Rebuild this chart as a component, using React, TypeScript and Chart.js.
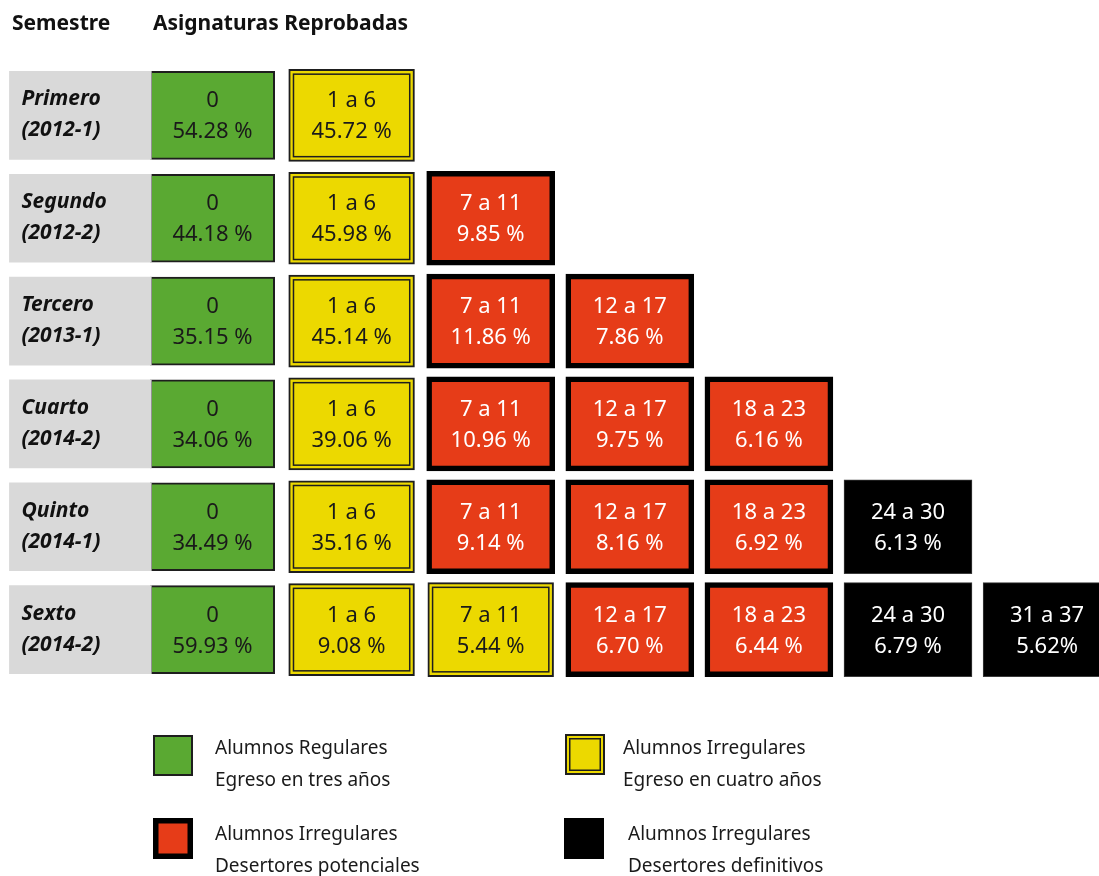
import React, { useEffect, useRef } from "react";
import { Chart, registerables } from "chart.js";

Chart.register(...registerables);

// ---------------- data ----------------
const headerSemester = "Semestre";
const headerFailed = "Asignaturas Reprobadas";

const semesters = ["Primero", "Segundo", "Tercero", "Cuarto", "Quinto", "Sexto"];
const periods = ["(2012-1)", "(2012-2)", "(2013-1)", "(2014-2)", "(2014-1)", "(2014-2)"];

const failedRanges = ["0", "1 a 6", "7 a 11", "12 a 17", "18 a 23", "24 a 30", "31 a 37"];

const pctPrimero = [54.28, 45.72];
const pctSegundo = [44.18, 45.98, 9.85];
const pctTercero = [35.15, 45.14, 11.86, 7.86];
const pctCuarto = [34.06, 39.06, 10.96, 9.75, 6.16];
const pctQuinto = [34.49, 35.16, 9.14, 8.16, 6.92, 6.13];
const pctSexto = [59.93, 9.08, 5.44, 6.7, 6.44, 6.79, 5.62];

// status per cell: R = regular, I = irregular (egreso 4 años), P = desertor potencial, D = desertor definitivo
const statusPrimero = ["R", "I"];
const statusSegundo = ["R", "I", "P"];
const statusTercero = ["R", "I", "P", "P"];
const statusCuarto = ["R", "I", "P", "P", "P"];
const statusQuinto = ["R", "I", "P", "P", "P", "D"];
const statusSexto = ["R", "I", "I", "P", "P", "D", "D"];

// cells whose percent sign is written without a space
const compactPercentCells = ["5-6"];

const legendTitles = ["Alumnos Regulares", "Alumnos Irregulares", "Alumnos Irregulares", "Alumnos Irregulares"];
const legendSubtitles = ["Egreso en tres años", "Egreso en cuatro años", "Desertores potenciales", "Desertores definitivos"];
const legendStatus = ["R", "I", "P", "D"];

const percentages = [pctPrimero, pctSegundo, pctTercero, pctCuarto, pctQuinto, pctSexto];
const statuses = [statusPrimero, statusSegundo, statusTercero, statusCuarto, statusQuinto, statusSexto];

// ---------------- styles / layout ----------------
const W = 1099;
const H = 876;
const FONT = '"Noto Sans", "Open Sans", sans-serif';
const COL0_PX = 212.5;
const COL_PITCH = 139.1;
const LABEL_COL = -0.95;
const LABEL_HALF = 0.51;

const fills: Record<string, string> = { R: "#5aa932", I: "#ecd900", P: "#e63c18", D: "#000000" };
const borders: Record<string, string> = { R: "#1e1e1e", I: "#1e1e1e", P: "#000000", D: "#3a3a3a" };
const borderWidths: Record<string, number> = { R: 2, I: 2, P: 5.5, D: 1 };
const halfWidths: Record<string, number> = { R: 0.447, I: 0.452, P: 0.46, D: 0.46 };
const textColors: Record<string, string> = { R: "#1a1a1a", I: "#1a1a1a", P: "#ffffff", D: "#ffffff" };
const colThickness = [88, 92, 94, 94, 94, 94, 94];

function drawDoubleInner(ctx: CanvasRenderingContext2D, l: number, t: number, w: number, h: number) {
  ctx.save();
  ctx.strokeStyle = "#1e1e1e";
  ctx.lineWidth = 1.5;
  ctx.strokeRect(l + 4.75, t + 4.75, w - 9.5, h - 9.5);
  ctx.restore();
}

const cellTextPlugin = {
  id: "cellText",
  afterDatasetsDraw(chart: any) {
    const ctx: CanvasRenderingContext2D = chart.ctx;
    chart.data.datasets.forEach((ds: any, di: number) => {
      const meta = chart.getDatasetMeta(di);
      meta.data.forEach((el: any, r: number) => {
        if (ds.data[r] == null) return;
        const p = el.getProps(["x", "y", "base", "height"], true);
        const left = Math.min(p.x, p.base);
        const right = Math.max(p.x, p.base);
        const cy = p.y;
        ctx.save();
        if (ds.isLabel) {
          ctx.fillStyle = "#111111";
          ctx.font = `italic bold 21px ${FONT}`;
          ctx.textAlign = "left";
          ctx.textBaseline = "alphabetic";
          ctx.fillText(semesters[r], left + 12, cy - 10);
          ctx.fillText(periods[r], left + 12, cy + 21);
        } else {
          const c = ds.col;
          const st = statuses[r][c];
          if (st === "I") {
            drawDoubleInner(ctx, left, cy - p.height / 2, right - left, p.height);
          }
          const cx = (left + right) / 2;
          ctx.fillStyle = textColors[st];
          ctx.font = `22px ${FONT}`;
          ctx.textAlign = "center";
          ctx.textBaseline = "alphabetic";
          const v = percentages[r][c];
          const compact = compactPercentCells.includes(`${r}-${c}`);
          ctx.fillText(failedRanges[c], cx, cy - 8);
          ctx.fillText(`${v.toFixed(2)}${compact ? "" : " "}%`, cx, cy + 23);
        }
        ctx.restore();
      });
    });
  },
  afterDraw(chart: any) {
    const ctx: CanvasRenderingContext2D = chart.ctx;
    ctx.save();
    ctx.fillStyle = "#111111";
    ctx.font = `bold 21px ${FONT}`;
    ctx.textAlign = "left";
    ctx.textBaseline = "alphabetic";
    ctx.fillText(headerSemester, 12, 30);
    ctx.fillText(headerFailed, 153, 30);

    // legend
    const boxes = [
      { x: 153, y: 735, tx: 215, ty: 754 },
      { x: 565, y: 734, tx: 623, ty: 754 },
      { x: 153, y: 818, tx: 215, ty: 840 },
      { x: 564, y: 818, tx: 628, ty: 840 },
    ];
    boxes.forEach((b, i) => {
      const st = legendStatus[i];
      const w = 40;
      const h = 41;
      ctx.fillStyle = fills[st];
      ctx.fillRect(b.x, b.y, w, h);
      const bw = borderWidths[st];
      if (st !== "D") {
        ctx.strokeStyle = borders[st];
        ctx.lineWidth = bw;
        ctx.strokeRect(b.x + bw / 2, b.y + bw / 2, w - bw, h - bw);
      }
      if (st === "I") drawDoubleInner(ctx, b.x, b.y, w, h);
      ctx.fillStyle = "#1a1a1a";
      ctx.font = `19px ${FONT}`;
      ctx.fillText(legendTitles[i], b.tx, b.ty);
      ctx.fillText(legendSubtitles[i], b.tx, b.ty + 32);
    });
    ctx.restore();
  },
};

export default function App() {
  const ref = useRef<HTMLCanvasElement | null>(null);

  useEffect(() => {
    if (!ref.current) return;
    const nCols = failedRanges.length;
    const labelDataset: any = {
      label: "Semestre",
      isLabel: true,
      data: semesters.map(() => [LABEL_COL - LABEL_HALF, LABEL_COL + LABEL_HALF]),
      backgroundColor: "#d9d9d9",
      borderWidth: 0,
      barThickness: 88,
    };
    const colDatasets: any[] = [];
    for (let c = 0; c < nCols; c++) {
      colDatasets.push({
        label: failedRanges[c],
        col: c,
        data: percentages.map((row, r) => {
          if (c >= row.length) return null;
          const hw = halfWidths[statuses[r][c]];
          return [c - hw, c + hw];
        }),
        backgroundColor: (ctx: any) => fills[statuses[ctx.dataIndex]?.[c] ?? "R"],
        borderColor: (ctx: any) => borders[statuses[ctx.dataIndex]?.[c] ?? "R"],
        borderWidth: (ctx: any) => borderWidths[statuses[ctx.dataIndex]?.[c] ?? "R"],
        barThickness: colThickness[c],
      });
    }
    const xMin = -COL0_PX / COL_PITCH;
    const xMax = xMin + W / COL_PITCH;
    const chart = new Chart(ref.current, {
      type: "bar",
      data: { labels: semesters, datasets: [labelDataset, ...colDatasets] },
      options: {
        indexAxis: "y",
        responsive: false,
        animation: false,
        devicePixelRatio: 1,
        layout: { padding: { top: 64, bottom: 195, left: 0, right: 0 } },
        datasets: { bar: { grouped: false, borderSkipped: false } as any },
        scales: {
          x: { type: "linear", display: false, min: xMin, max: xMax },
          y: { type: "category", display: false, offset: true },
        },
        plugins: { legend: { display: false }, tooltip: { enabled: false } },
      } as any,
      plugins: [cellTextPlugin],
    });
    return () => chart.destroy();
  }, []);

  return (
    <div style={{ position: "absolute", left: 0, top: 0, width: W, height: H, background: "#ffffff" }}>
      <canvas ref={ref} width={W} height={H} style={{ display: "block" }} />
    </div>
  );
}
